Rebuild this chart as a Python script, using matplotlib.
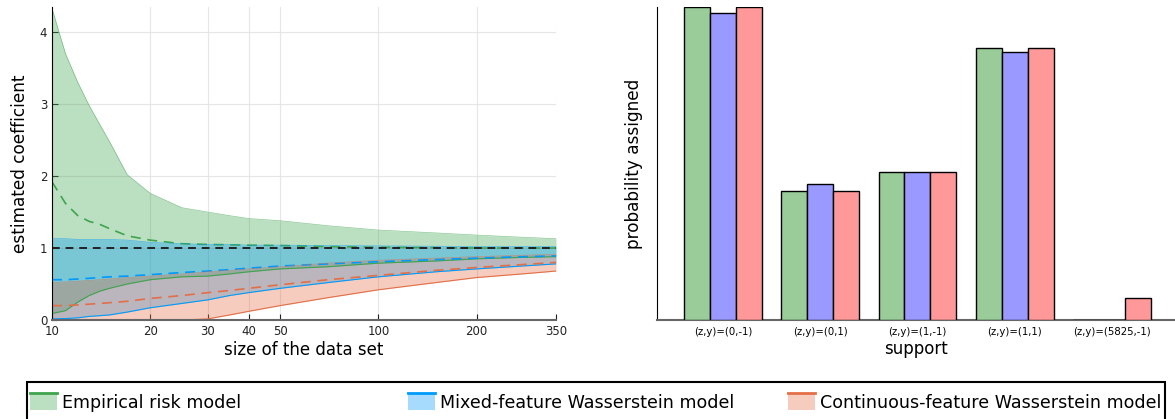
import matplotlib.pyplot as plt
from matplotlib.patches import Rectangle
from matplotlib.lines import Line2D

# data
n_vals = [10, 11, 12, 13, 14, 15, 17, 20, 25, 30, 35, 40, 50, 70, 100, 150, 200, 275, 350]

erm_hi = [4.33, 3.70, 3.30, 2.98, 2.72, 2.48, 2.02, 1.76, 1.56, 1.50, 1.45, 1.41, 1.38, 1.31, 1.25, 1.21, 1.18, 1.15, 1.13]
erm_mean = [1.92, 1.62, 1.45, 1.37, 1.33, 1.27, 1.17, 1.11, 1.06, 1.05, 1.045, 1.04, 1.035, 1.02, 1.01, 1.005, 1.0, 1.0, 1.0]
erm_lo = [0.09, 0.13, 0.25, 0.34, 0.40, 0.44, 0.50, 0.56, 0.60, 0.61, 0.64, 0.67, 0.71, 0.74, 0.79, 0.82, 0.85, 0.87, 0.88]

mixed_hi = [1.13, 1.13, 1.12, 1.12, 1.12, 1.12, 1.11, 1.08, 1.06, 1.05, 1.05, 1.04, 1.04, 1.035, 1.03, 1.025, 1.02, 1.02, 1.02]
mixed_mean = [0.56, 0.56, 0.57, 0.58, 0.59, 0.60, 0.61, 0.63, 0.66, 0.68, 0.70, 0.72, 0.75, 0.78, 0.81, 0.84, 0.86, 0.88, 0.89]
mixed_lo = [0.015, 0.02, 0.03, 0.05, 0.06, 0.07, 0.11, 0.17, 0.23, 0.28, 0.34, 0.38, 0.44, 0.52, 0.60, 0.67, 0.71, 0.75, 0.78]

cont_hi = [0.52, 0.53, 0.54, 0.55, 0.56, 0.57, 0.59, 0.61, 0.64, 0.67, 0.69, 0.71, 0.74, 0.79, 0.83, 0.86, 0.88, 0.90, 0.91]
cont_mean = [0.20, 0.20, 0.21, 0.22, 0.23, 0.24, 0.26, 0.30, 0.34, 0.38, 0.41, 0.44, 0.49, 0.56, 0.62, 0.69, 0.73, 0.77, 0.80]
cont_lo = [0.0, 0.0, 0.0, 0.0, 0.0, 0.0, 0.0, 0.0, 0.0, 0.015, 0.07, 0.12, 0.20, 0.31, 0.42, 0.52, 0.59, 0.64, 0.68]

true_coef = 1.0

support = ["(z,y)=(0,-1)", "(z,y)=(0,1)", "(z,y)=(1,-1)", "(z,y)=(1,1)", "(z,y)=(5825,-1)"]
erm_probs = [0.363, 0.150, 0.172, 0.316, 0.0]
mixed_probs = [0.356, 0.158, 0.172, 0.311, 0.0]
cont_probs = [0.363, 0.150, 0.172, 0.316, 0.0255]

x_ticks = [10, 20, 30, 40, 50, 100, 200, 350]
model_names = ["Empirical risk model", "Mixed-feature Wasserstein model", "Continuous-feature Wasserstein model"]

GREEN = "#3EA44E"
BLUE = "#009AFA"
ORANGE = "#E36F47"
FILL_ALPHA = 0.35
W, H = 1175, 419


class BandHandler:
    """legend box: light fill with a coloured line on top"""
    def legend_artist(self, legend, orig_handle, fontsize, handlebox):
        x0, y0 = handlebox.xdescent, handlebox.ydescent
        w, h = handlebox.width, handlebox.height
        c = orig_handle.get_color()
        rect = Rectangle((x0, y0 - 0.2 * h), w, 1.4 * h, facecolor=c, alpha=FILL_ALPHA,
                         edgecolor="none", transform=handlebox.get_transform())
        top = Line2D([x0, x0 + w], [y0 + 1.2 * h, y0 + 1.2 * h], color=c, lw=2,
                     transform=handlebox.get_transform())
        handlebox.add_artist(rect)
        handlebox.add_artist(top)
        return rect


fig = plt.figure(figsize=(W / 100, H / 100), dpi=100)
ax1 = fig.add_axes([52 / W, 99 / H, 504 / W, 313 / H])
ax2 = fig.add_axes([657 / W, 99 / H, 1 - 657 / W, 313 / H])

# left panel: bands of estimated coefficient
handles = []
for lo, mean, hi, c in [(erm_lo, erm_mean, erm_hi, GREEN),
                        (mixed_lo, mixed_mean, mixed_hi, BLUE),
                        (cont_lo, cont_mean, cont_hi, ORANGE)]:
    ax1.fill_between(n_vals, lo, hi, color=c, alpha=FILL_ALPHA, lw=0)
    ax1.plot(n_vals, lo, color=c, lw=0.8)
    ax1.plot(n_vals, hi, color=c, lw=0.5, alpha=0.6)
    ax1.plot(n_vals, mean, color=c, lw=1.2, ls=(0, (6, 4)))
    handles.append(Line2D([], [], color=c))

ax1.plot([n_vals[0], n_vals[-1]], [true_coef, true_coef], color="#222222", lw=1.4, ls=(0, (4, 3)))

ax1.set_xscale("log")
ax1.set_xlim(10, 350)
ax1.set_ylim(0, 4.35)
ax1.set_xticks(x_ticks)
ax1.set_xticklabels([str(t) for t in x_ticks])
ax1.minorticks_off()
ax1.set_yticks([0, 1, 2, 3, 4])
ax1.grid(True, color="#e6e6e6", lw=0.8)
ax1.set_axisbelow(True)
ax1.tick_params(direction="in", length=4, labelsize=8.5, colors="#222222", width=0.8)
ax1.spines["top"].set_visible(False)
ax1.spines["right"].set_visible(False)
ax1.spines["left"].set_color("black")
ax1.spines["bottom"].set_color("#666666")
ax1.spines["bottom"].set_linewidth(1.5)
ax1.set_xlabel("size of the data set", fontsize=12, labelpad=2)
ax1.set_ylabel("estimated coefficient", fontsize=12.2, labelpad=8)

# right panel: probability per support point
pos = list(range(1, len(support) + 1))
bw = 0.8 / 3
ax2.bar([p - bw for p in pos], erm_probs, width=bw, color="#99cc99", edgecolor="black", lw=1, zorder=3)
ax2.bar(pos, mixed_probs, width=bw, color="#9999ff", edgecolor="black", lw=1, zorder=3)
ax2.bar([p + bw for p in pos], cont_probs, width=bw, color="#ff9999", edgecolor="black", lw=1, zorder=3)
ax2.set_xlim(0.32, 5.65)
ax2.set_ylim(0, max(erm_probs))
ax2.set_xticks(pos)
ax2.set_xticklabels(support, fontsize=7.3)
ax2.set_yticks([])
ax2.tick_params(axis="x", length=0, pad=5)
ax2.spines["top"].set_visible(False)
ax2.spines["right"].set_visible(False)
ax2.spines["left"].set_color("black")
ax2.spines["bottom"].set_color("#666666")
ax2.spines["bottom"].set_linewidth(1.5)
ax2.set_xlabel("support", fontsize=12, labelpad=2)
ax2.set_ylabel("probability assigned", fontsize=12.2, labelpad=10)

# legend frame across the bottom, entries placed one by one
fig.add_artist(Rectangle((27 / W, -0.05), 1138 / W, (419 - 382) / H + 0.05, transform=fig.transFigure,
                         fill=False, edgecolor="black", lw=1.5))
legend_x = [30, 408, 788]
for h, name, lx in zip(handles, model_names, legend_x):
    fig.legend([h], [name], handler_map={Line2D: BandHandler()}, loc="center left",
               bbox_to_anchor=(lx / W, (419 - 403) / H), frameon=False, fontsize=12.6,
               handlelength=1.55, handletextpad=0.3, borderpad=0, borderaxespad=0)

plt.savefig("out.png", dpi=100)
plt.close()
